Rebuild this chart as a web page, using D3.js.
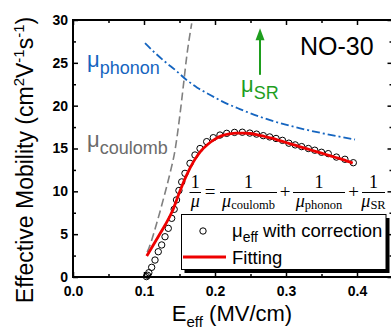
<!DOCTYPE html>
<html><head><meta charset="utf-8">
<script src="https://cdn.jsdelivr.net/npm/d3@7"></script>
<style>body{margin:0;background:#fff;} svg{display:block;}</style>
</head><body><svg id="c" width="391" height="333"></svg>
<script>
// measured mobility (open circles)
const effField = [0.1035,0.105,0.1068,0.1108,0.1155,0.1201,0.1249,0.1296,0.1342,0.139,0.1425,0.1458,0.1492,0.1531,0.1577,0.1648,0.1718,0.1789,0.1883,0.1976,0.207,0.2165,0.2275,0.2385,0.249,0.2585,0.268,0.277,0.286,0.295,0.304,0.313,0.322,0.3315,0.3405,0.35,0.3595,0.371,0.383,0.3948];
const muEff = [0.05,0.2,0.5,1.13,1.98,2.95,3.74,4.7,5.68,6.85,7.9,9.0,10.1,11.1,12.1,13.27,14.24,15.0,15.8,16.26,16.57,16.77,16.88,16.9,16.8,16.68,16.5,16.35,16.17,15.95,15.62,15.42,15.22,15.0,14.8,14.56,14.4,14.0,13.74,13.34];
// fitting curve
const fitField = [0.1038,0.11,0.12,0.13,0.14,0.15,0.16,0.17,0.18,0.19,0.20,0.21,0.22,0.23,0.24,0.25,0.26,0.27,0.28,0.29,0.30,0.31,0.32,0.33,0.34,0.35,0.36,0.37,0.38,0.394];
const fitMu = [2.45,3.3,4.7,6.1,7.7,9.9,11.9,13.5,14.7,15.5,16.1,16.5,16.7,16.8,16.8,16.75,16.6,16.4,16.2,15.95,15.7,15.45,15.2,14.95,14.7,14.45,14.2,13.95,13.7,13.3];
// phonon-limited mobility
const phononField = [0.1014,0.115,0.13,0.145,0.16,0.175,0.19,0.21,0.235,0.2634,0.29,0.32,0.35,0.3972];
const phononMu = [27.3,26.2,25.1,24.1,23.0,22.1,21.4,20.5,19.6,18.7,18.0,17.35,16.8,16.05];
// coulomb-limited mobility
const coulombField = [0.1045,0.1075,0.118,0.127,0.1366,0.1437,0.1507,0.1554,0.1601,0.1672];
const coulombMu = [2.9,3.5,6.3,9.0,12.1,14.8,19.0,22.3,25.7,29.6];
// surface roughness arrow
const srField = 0.2634, srFrom = 23.6, srTo = 29.05;

const xMajor = [0,0.1,0.2,0.3,0.4];
const xMajorLabels = ["0.0","0.1","0.2","0.3","0.4"];
const xMinor = [0.05,0.15,0.25,0.35,0.45];
const yMajor = [0,5,10,15,20,25,30];
const yMinor = [2.5,7.5,12.5,17.5,22.5,27.5];

const svg = d3.select("#c");
const L = 73, R = 392.5, T = 20, B = 277;
const x = d3.scaleLinear([0,0.45],[L,R]);
const y = d3.scaleLinear([0,30],[B,T]);

const tickFont = "'Liberation Sans', Arial, sans-serif";
function styleAxis(g){
  g.select(".domain").remove();
  g.selectAll("line").attr("stroke","#000").attr("stroke-width",1.5);
  g.selectAll("text").attr("font-family",tickFont).attr("font-weight","bold").attr("font-size",14).attr("fill","#000");
}
// bottom
svg.append("g").attr("transform",`translate(0,${B})`)
  .call(d3.axisBottom(x).tickValues(xMajor).tickFormat((d,i)=>xMajorLabels[i]).tickSizeInner(-5).tickSizeOuter(0).tickPadding(9)).call(styleAxis);
svg.append("g").attr("transform",`translate(0,${B})`)
  .call(d3.axisBottom(x).tickValues(xMinor).tickFormat("").tickSizeInner(-3).tickSizeOuter(0)).call(styleAxis);
// top
svg.append("g").attr("transform",`translate(0,${T})`)
  .call(d3.axisTop(x).tickValues(xMajor).tickFormat("").tickSizeInner(-5).tickSizeOuter(0)).call(styleAxis);
svg.append("g").attr("transform",`translate(0,${T})`)
  .call(d3.axisTop(x).tickValues(xMinor).tickFormat("").tickSizeInner(-3).tickSizeOuter(0)).call(styleAxis);
// left
svg.append("g").attr("transform",`translate(${L},0)`)
  .call(d3.axisLeft(y).tickValues(yMajor).tickFormat(d3.format("d")).tickSizeInner(-5).tickSizeOuter(0).tickPadding(5)).call(styleAxis);
svg.append("g").attr("transform",`translate(${L},0)`)
  .call(d3.axisLeft(y).tickValues(yMinor).tickFormat("").tickSizeInner(-3).tickSizeOuter(0)).call(styleAxis);
// right
svg.append("g").attr("transform",`translate(${R},0)`)
  .call(d3.axisRight(y).tickValues(yMajor).tickFormat("").tickSizeInner(-5).tickSizeOuter(0)).call(styleAxis);
svg.append("g").attr("transform",`translate(${R},0)`)
  .call(d3.axisRight(y).tickValues(yMinor).tickFormat("").tickSizeInner(-3).tickSizeOuter(0)).call(styleAxis);

// frame
svg.append("rect").attr("x",L).attr("y",T).attr("width",R-L).attr("height",B-T)
  .attr("fill","none").attr("stroke","#000").attr("stroke-width",2);

const line = d3.line().x(d=>x(d[0])).y(d=>y(d[1])).curve(d3.curveMonotoneX);

// coulomb (gray dashed)
svg.append("path").datum(d3.zip(coulombField,coulombMu)).attr("d",line)
  .attr("fill","none").attr("stroke","#808080").attr("stroke-width",1.6).attr("stroke-dasharray","8,4");
// phonon (blue dash-dot)
svg.append("path").datum(d3.zip(phononField,phononMu)).attr("d",line)
  .attr("fill","none").attr("stroke","#1565c0").attr("stroke-width",1.8).attr("stroke-dasharray","8,3,2,3");

// circles
svg.append("g").selectAll("circle").data(d3.zip(effField,muEff)).join("circle")
  .attr("cx",d=>x(d[0])).attr("cy",d=>y(d[1])).attr("r",3.2)
  .attr("fill","none").attr("stroke","#000").attr("stroke-width",1);
// fitting line
svg.append("path").datum(d3.zip(fitField,fitMu)).attr("d",line)
  .attr("fill","none").attr("stroke","#ee0000").attr("stroke-width",2.8);

// SR arrow
const green = "#1e9e1e";
svg.append("line").attr("x1",x(srField)).attr("x2",x(srField)).attr("y1",y(srFrom)).attr("y2",y(srTo)+10)
  .attr("stroke",green).attr("stroke-width",2);
svg.append("path").attr("d",`M${x(srField)},${y(srTo)} L${x(srField)-4.5},${y(srTo)+12} L${x(srField)+4.5},${y(srTo)+12} Z`).attr("fill",green);

// labels
const sans = "'Liberation Sans', Arial, sans-serif";
function muLabel(xp, yp, sub, color, size, subSize, shift){
  const t = svg.append("text").attr("x",xp).attr("y",yp).attr("font-family",sans).attr("fill",color).attr("font-size",size);
  t.append("tspan").text("μ");
  t.append("tspan").attr("font-size",subSize).attr("dy",shift).text(sub);
  return t;
}
muLabel(87,67,"phonon","#1565c0",22,18,7);
muLabel(87,147,"coulomb","#6b6b6b",22,18,7);
muLabel(241,92,"SR",green,22,18,7);
svg.append("text").attr("x",300).attr("y",54.5).attr("font-family",sans).attr("font-size",25).attr("fill","#000").text("NO-30");

// equation
const serif = "'Liberation Serif','DejaVu Serif',serif";
const eq = svg.append("g").attr("font-family",serif).attr("fill","#000");
function frac(x0,x1,sub){
  const cx=(x0+x1)/2;
  eq.append("text").attr("x",cx).attr("y",187.5).attr("text-anchor","middle").attr("font-size",18).text("1");
  eq.append("line").attr("x1",x0).attr("x2",x1).attr("y1",192.5).attr("y2",192.5).attr("stroke","#000").attr("stroke-width",1);
  const t = eq.append("text").attr("x",cx).attr("y",206.5).attr("text-anchor","middle");
  t.append("tspan").attr("font-size",18).attr("font-style","italic").text("μ");
  if(sub) t.append("tspan").attr("font-size",12.5).attr("dy",2.5).text(sub);
}
frac(189.5,201,"");
eq.append("text").attr("x",210).attr("y",198).attr("text-anchor","middle").attr("font-size",19).text("=");
frac(220,277,"coulomb");
eq.append("text").attr("x",285).attr("y",197.5).attr("text-anchor","middle").attr("font-size",19).text("+");
frac(293,345,"phonon");
eq.append("text").attr("x",353.5).attr("y",197.5).attr("text-anchor","middle").attr("font-size",19).text("+");
frac(362,385,"SR");

// legend
svg.append("rect").attr("x",184.5).attr("y",218).attr("width",205).attr("height",55).attr("fill","#000");
svg.append("rect").attr("x",181.5).attr("y",214.5).attr("width",204.5).attr("height",55).attr("fill","#fff").attr("stroke","#000").attr("stroke-width",1);
svg.append("circle").attr("cx",203).attr("cy",231).attr("r",3.2).attr("fill","none").attr("stroke","#000").attr("stroke-width",1);
const lt = svg.append("text").attr("x",232).attr("y",237).attr("font-family",sans).attr("font-size",18.5).attr("fill","#000");
lt.append("tspan").text("μ");
lt.append("tspan").attr("font-size",14).attr("dy",5).text("eff");
lt.append("tspan").attr("dy",-5).text(" with correction");
svg.append("line").attr("x1",183).attr("x2",226).attr("y1",257).attr("y2",257).attr("stroke","#ee0000").attr("stroke-width",3);
svg.append("text").attr("x",232).attr("y",264).attr("font-family",sans).attr("font-size",18.5).attr("fill","#000").text("Fitting");

// axis titles
const xt = svg.append("text").attr("x",232).attr("y",321).attr("text-anchor","middle").attr("font-family",sans).attr("font-size",22).attr("fill","#000");
xt.append("tspan").text("E");
xt.append("tspan").attr("font-size",15).attr("dy",6).text("eff");
xt.append("tspan").attr("dy",-6).text(" (MV/cm)");
const yt = svg.append("text").attr("transform","translate(33,160) rotate(-90)").attr("text-anchor","middle").attr("font-family",sans).attr("font-size",23).attr("fill","#000");
yt.append("tspan").text("Effective Mobility (cm");
yt.append("tspan").attr("font-size",15).attr("dy",-9).text("2");
yt.append("tspan").attr("dy",9).text("V");
yt.append("tspan").attr("font-size",15).attr("dy",-9).text("-1");
yt.append("tspan").attr("dy",9).text("s");
yt.append("tspan").attr("font-size",15).attr("dy",-9).text("-1");
yt.append("tspan").attr("dy",9).text(")");
</script>
</body></html>
